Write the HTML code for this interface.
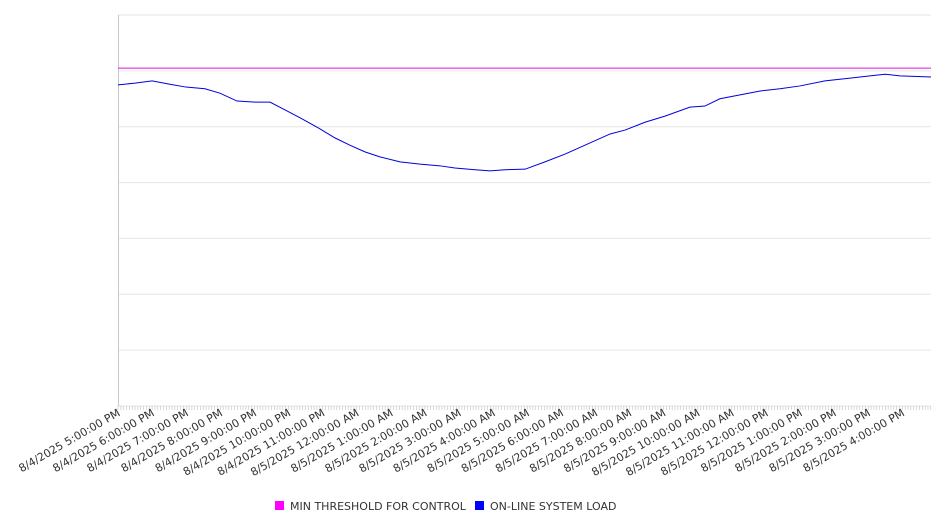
<!DOCTYPE html>
<html><head><meta charset="utf-8"><style>
html,body{margin:0;padding:0;background:#fff;}
svg{display:block;font-family:"DejaVu Sans","Liberation Sans",sans-serif;}
</style></head><body>
<svg id="chart" width="946" height="526"></svg>
<script>
const hours=[0,0.5,1.0,1.52,1.99,2.55,2.99,3.49,4.02,4.46,4.9,5.34,5.87,6.36,6.8,7.24,7.68,8.27,8.86,9.44,9.88,10.47,10.91,11.35,11.94,12.52,13.11,13.84,14.43,14.87,15.45,16.04,16.77,17.21,17.65,18.24,18.83,19.41,20.0,20.73,21.47,22.05,22.49,22.93,23.84];
const loadValues=[57.5,57.8,58.2,57.6,57.1,56.8,56.0,54.6,54.4,54.4,53.0,51.6,49.8,48.0,46.7,45.5,44.6,43.7,43.3,43.0,42.6,42.3,42.1,42.3,42.4,43.7,45.1,47.1,48.7,49.4,50.8,51.9,53.5,53.7,55.0,55.7,56.4,56.8,57.3,58.2,58.7,59.1,59.4,59.1,58.9];
const thresholdValue=[60.5];
const tickLabels=["8/4/2025 5:00:00 PM","8/4/2025 6:00:00 PM","8/4/2025 7:00:00 PM","8/4/2025 8:00:00 PM","8/4/2025 9:00:00 PM","8/4/2025 10:00:00 PM","8/4/2025 11:00:00 PM","8/5/2025 12:00:00 AM","8/5/2025 1:00:00 AM","8/5/2025 2:00:00 AM","8/5/2025 3:00:00 AM","8/5/2025 4:00:00 AM","8/5/2025 5:00:00 AM","8/5/2025 6:00:00 AM","8/5/2025 7:00:00 AM","8/5/2025 8:00:00 AM","8/5/2025 9:00:00 AM","8/5/2025 10:00:00 AM","8/5/2025 11:00:00 AM","8/5/2025 12:00:00 PM","8/5/2025 1:00:00 PM","8/5/2025 2:00:00 PM","8/5/2025 3:00:00 PM","8/5/2025 4:00:00 PM"];
const yTicks=[0,10,20,30,40,50,60,70];

const NS="http://www.w3.org/2000/svg";
const svg=document.getElementById('chart');
const L=118,R=931,T=15,B=406,H0=0,H1=23.84,Y0=0,Y1=70;
const xs=h=>L+(h-H0)/(H1-H0)*(R-L);
const ys=v=>B-(v-Y0)/(Y1-Y0)*(B-T);
function mk(tag,attrs,parent){const e=document.createElementNS(NS,tag);for(const k in attrs)e.setAttribute(k,attrs[k]);(parent||svg).appendChild(e);return e;}

const grid=mk('g',{});


yTicks.forEach(v=>{const l=mk('line',{x1:L,x2:R,y1:ys(v),y2:ys(v),stroke:'#e6e6e6','stroke-width':1},grid);

});

const yaxis=mk('line',{x1:L+0.5,x2:L+0.5,y1:T,y2:B,stroke:'#c8c8c8','stroke-width':1});



const minor=mk('g',{stroke:'#c0c0c0','stroke-width':0.6});


for(let m=0;m<=H1*12;m++){const x=xs(m/12);mk('line',{x1:x,x2:x,y1:B,y2:B+4},minor);}

const xl=mk('g',{'font-size':11,fill:'#333'});


tickLabels.forEach((t,i)=>{const x=xs(i)+3,y=B+9;
const tx=mk('text',{x:x,y:y,'text-anchor':'end',transform:`rotate(-30 ${x} ${y})`},xl);tx.textContent=t;

});

const th=mk('line',{x1:L,x2:R,y1:ys(thresholdValue[0]),y2:ys(thresholdValue[0]),stroke:'#e010e0','stroke-width':1});



const pl=mk('polyline',{points:hours.map((h,i)=>xs(h)+','+ys(loadValues[i])).join(' '),fill:'none',stroke:'#0000e0','stroke-width':1});



const lg=mk('g',{'font-size':11,fill:'#333'});


const e1=mk('g',{},lg);


mk('rect',{x:275,y:501,width:9,height:9,fill:'#ff00ff'},e1);
mk('text',{x:290,y:510},e1).textContent='MIN THRESHOLD FOR CONTROL';
const e2=mk('g',{},lg);


mk('rect',{x:475,y:501,width:9,height:9,fill:'#0000ff'},e2);
mk('text',{x:490,y:510},e2).textContent='ON-LINE SYSTEM LOAD';
</script>
</body></html>
